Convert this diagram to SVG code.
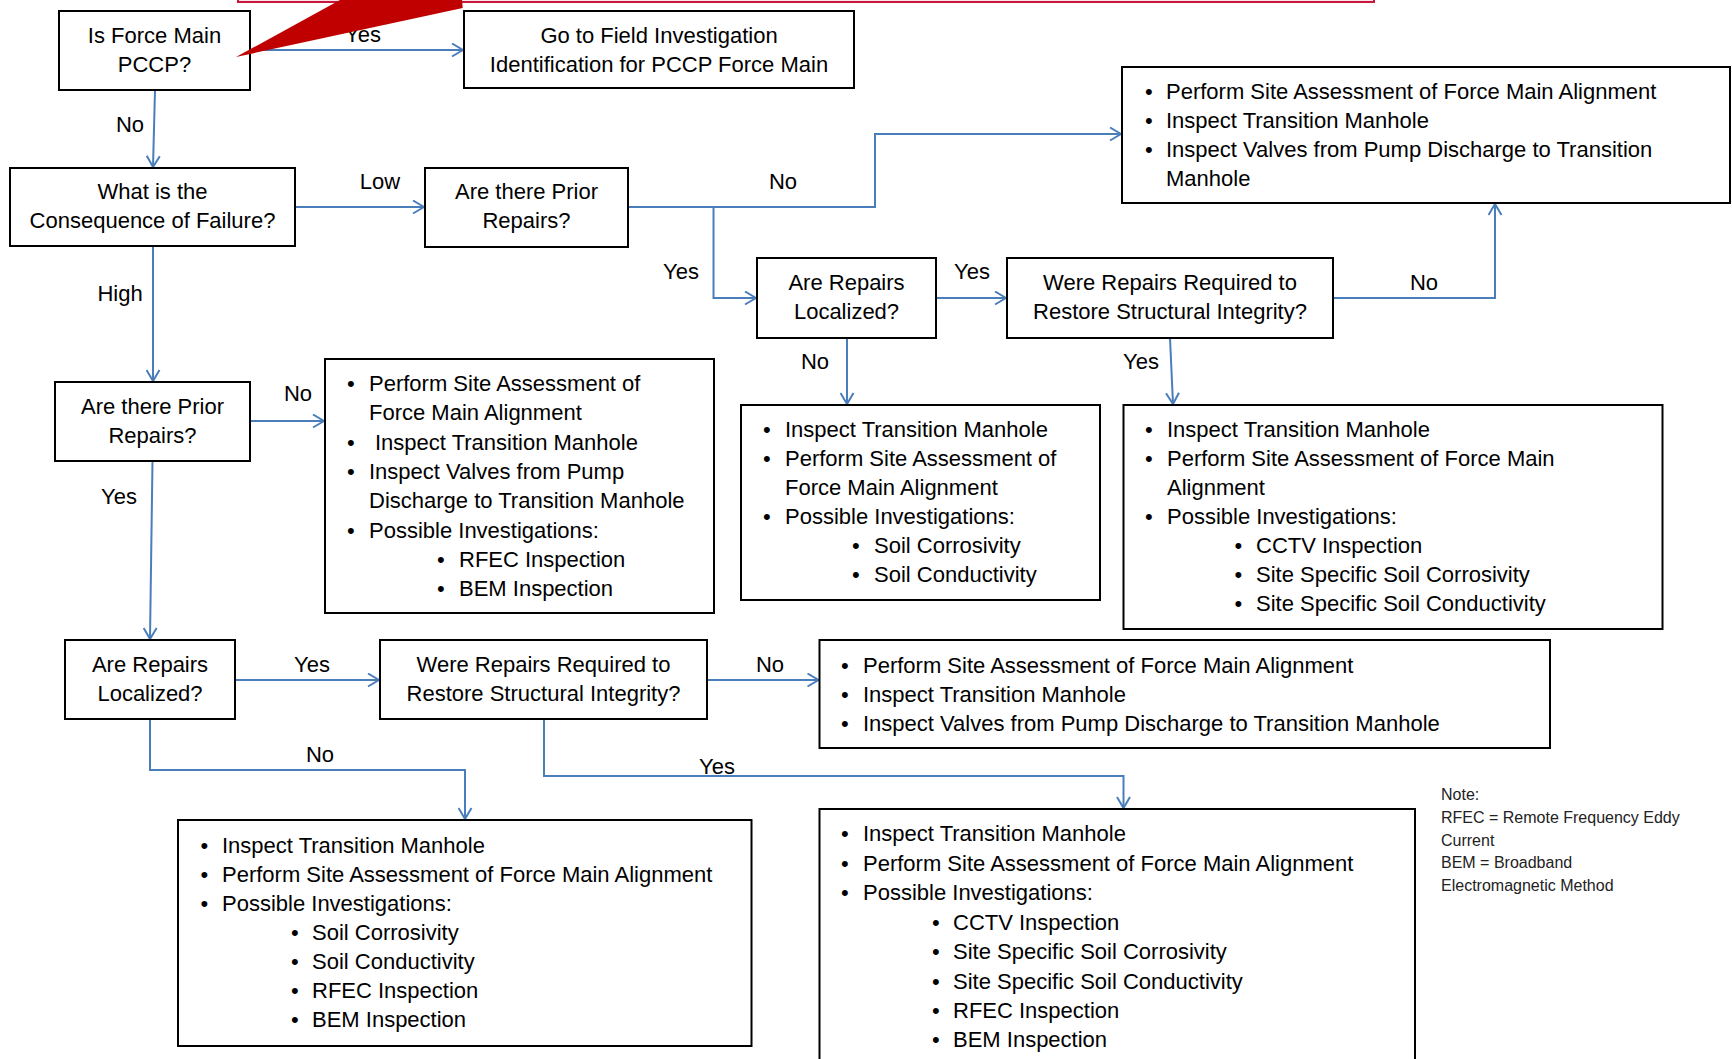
<svg xmlns="http://www.w3.org/2000/svg" width="1732" height="1059" viewBox="0 0 1732 1059">
<style>
text{font-family:"Liberation Sans",Arial,sans-serif;font-size:22px;fill:#000}
.c{text-anchor:middle}
.box{fill:#fff;stroke:#000;stroke-width:2}
.ln{fill:none;stroke:#4a7ebb;stroke-width:2;marker-end:url(#ah)}
.lb{text-anchor:middle}
.note{font-size:16px;fill:#222}
</style>
<defs>
<marker id="ah" viewBox="0 0 13 15" refX="12" refY="7.5" markerWidth="13" markerHeight="15" markerUnits="userSpaceOnUse" orient="auto">
<path d="M1,1 L12,7.5 L1,14" fill="none" stroke="#4a7ebb" stroke-width="2"/>
</marker>
</defs>
<rect width="1732" height="1059" fill="#fff"/>

<g id="connectors">
<path class="ln" d="M250,50 L463,50"/>
<path class="ln" d="M155,90 L153,167"/>
<path class="ln" d="M295,207 L424,207"/>
<path class="ln" d="M628,207 L875,207 L875,134 L1121,134"/>
<path class="ln" d="M713.5,207 L713.5,298 L756,298"/>
<path class="ln" d="M936,298 L1006,298"/>
<path class="ln" d="M1333,298 L1495,298 L1495,204"/>
<path class="ln" d="M847,338 L847,404"/>
<path class="ln" d="M1170,338 L1173,404"/>
<path class="ln" d="M153,246 L153,381"/>
<path class="ln" d="M250,421 L324,421"/>
<path class="ln" d="M152.5,461 L150,639"/>
<path class="ln" d="M235,680 L379,680"/>
<path class="ln" d="M707,680 L818.5,680"/>
<path class="ln" d="M150,719 L150,770 L465,770 L465,819"/>
<path class="ln" d="M544,719 L544,776 L1123.5,776 L1123.5,808"/>
<text class="lb" x="363" y="42">Yes</text>
<text class="lb" x="130" y="132">No</text>
<text class="lb" x="380" y="189">Low</text>
<text class="lb" x="783" y="189">No</text>
<text class="lb" x="681" y="279">Yes</text>
<text class="lb" x="972" y="279">Yes</text>
<text class="lb" x="1424" y="290">No</text>
<text class="lb" x="815" y="369">No</text>
<text class="lb" x="1141" y="369">Yes</text>
<text class="lb" x="120" y="301">High</text>
<text class="lb" x="298" y="401">No</text>
<text class="lb" x="119" y="504">Yes</text>
<text class="lb" x="312" y="672">Yes</text>
<text class="lb" x="770" y="672">No</text>
<text class="lb" x="320" y="762">No</text>
<text class="lb" x="717" y="774">Yes</text>
</g>

<g id="n_pccp">
<rect class="box" x="59" y="11" width="191" height="79"/>
<text class="c" x="154.5" y="43">Is Force Main</text>
<text class="c" x="154.5" y="72">PCCP?</text>
</g>
<g id="n_field">
<rect class="box" x="464" y="11" width="390" height="77"/>
<text class="c" x="659" y="43">Go to Field Investigation</text>
<text class="c" x="659" y="72">Identification for PCCP Force Main</text>
</g>
<g id="n_cof">
<rect class="box" x="10" y="168" width="285" height="78"/>
<text class="c" x="152.5" y="199">What is the</text>
<text class="c" x="152.5" y="228">Consequence of Failure?</text>
</g>
<g id="n_prior_low">
<rect class="box" x="425" y="168" width="203" height="79"/>
<text class="c" x="526.5" y="199">Are there Prior</text>
<text class="c" x="526.5" y="228">Repairs?</text>
</g>
<g id="n_prior_high">
<rect class="box" x="55" y="382" width="195" height="79"/>
<text class="c" x="152.5" y="414">Are there Prior</text>
<text class="c" x="152.5" y="443">Repairs?</text>
</g>
<g id="n_loc_low">
<rect class="box" x="757" y="258" width="179" height="80"/>
<text class="c" x="846.5" y="290">Are Repairs</text>
<text class="c" x="846.5" y="319">Localized?</text>
</g>
<g id="n_req_low">
<rect class="box" x="1007" y="258" width="326" height="80"/>
<text class="c" x="1170" y="290">Were Repairs Required to</text>
<text class="c" x="1170" y="319">Restore Structural Integrity?</text>
</g>
<g id="n_loc_high">
<rect class="box" x="65" y="640" width="170" height="79"/>
<text class="c" x="150" y="672">Are Repairs</text>
<text class="c" x="150" y="701">Localized?</text>
</g>
<g id="n_req_high">
<rect class="box" x="380" y="640" width="327" height="79"/>
<text class="c" x="543.5" y="672">Were Repairs Required to</text>
<text class="c" x="543.5" y="701">Restore Structural Integrity?</text>
</g>

<g id="b_top">
<rect class="box" x="1122" y="67" width="608" height="136"/>
<text x="1145" y="99">•</text><text x="1166" y="99">Perform Site Assessment of Force Main Alignment</text>
<text x="1145" y="128">•</text><text x="1166" y="128">Inspect Transition Manhole</text>
<text x="1145" y="157">•</text><text x="1166" y="157">Inspect Valves from Pump Discharge to Transition</text>
<text x="1166" y="186">Manhole</text>
</g>
<g id="b_left">
<rect class="box" x="325" y="359" width="389" height="254"/>
<text x="347" y="391">•</text><text x="369" y="391">Perform Site Assessment of</text>
<text x="369" y="420.3">Force Main Alignment</text>
<text x="347" y="449.6">•</text><text x="375" y="449.6">Inspect Transition Manhole</text>
<text x="347" y="478.9">•</text><text x="369" y="478.9">Inspect Valves from Pump</text>
<text x="369" y="508.2">Discharge to Transition Manhole</text>
<text x="347" y="537.5">•</text><text x="369" y="537.5">Possible Investigations:</text>
<text x="437" y="566.8">•</text><text x="459" y="566.8">RFEC Inspection</text>
<text x="437" y="596.1">•</text><text x="459" y="596.1">BEM Inspection</text>
</g>
<g id="b_mid">
<rect class="box" x="741" y="405" width="359" height="195"/>
<text x="763" y="436.5">•</text><text x="785" y="436.5">Inspect Transition Manhole</text>
<text x="763" y="465.5">•</text><text x="785" y="465.5">Perform Site Assessment of</text>
<text x="785" y="494.5">Force Main Alignment</text>
<text x="763" y="523.5">•</text><text x="785" y="523.5">Possible Investigations:</text>
<text x="852" y="552.5">•</text><text x="874" y="552.5">Soil Corrosivity</text>
<text x="852" y="581.5">•</text><text x="874" y="581.5">Soil Conductivity</text>
</g>
<g id="b_right">
<rect class="box" x="1123.5" y="405" width="539" height="224"/>
<text x="1145" y="436.5">•</text><text x="1167" y="436.5">Inspect Transition Manhole</text>
<text x="1145" y="465.5">•</text><text x="1167" y="465.5">Perform Site Assessment of Force Main</text>
<text x="1167" y="494.5">Alignment</text>
<text x="1145" y="523.5">•</text><text x="1167" y="523.5">Possible Investigations:</text>
<text x="1234.5" y="552.5">•</text><text x="1256" y="552.5">CCTV Inspection</text>
<text x="1234.5" y="581.5">•</text><text x="1256" y="581.5">Site Specific Soil Corrosivity</text>
<text x="1234.5" y="610.5">•</text><text x="1256" y="610.5">Site Specific Soil Conductivity</text>
</g>
<g id="b_no_high">
<rect class="box" x="819.5" y="640" width="730.5" height="108"/>
<text x="841" y="672.5">•</text><text x="863" y="672.5">Perform Site Assessment of Force Main Alignment</text>
<text x="841" y="701.5">•</text><text x="863" y="701.5">Inspect Transition Manhole</text>
<text x="841" y="730.5">•</text><text x="863" y="730.5">Inspect Valves from Pump Discharge to Transition Manhole</text>
</g>
<g id="b_botleft">
<rect class="box" x="178" y="820" width="573.5" height="226"/>
<text x="200.5" y="852.5">•</text><text x="222" y="852.5">Inspect Transition Manhole</text>
<text x="200.5" y="881.5">•</text><text x="222" y="881.5">Perform Site Assessment of Force Main Alignment</text>
<text x="200.5" y="910.5">•</text><text x="222" y="910.5">Possible Investigations:</text>
<text x="291" y="939.5">•</text><text x="312" y="939.5">Soil Corrosivity</text>
<text x="291" y="968.5">•</text><text x="312" y="968.5">Soil Conductivity</text>
<text x="291" y="998">•</text><text x="312" y="998">RFEC Inspection</text>
<text x="291" y="1027">•</text><text x="312" y="1027">BEM Inspection</text>
</g>
<g id="b_botright">
<rect class="box" x="819.5" y="809" width="595.5" height="270"/>
<text x="841" y="841">•</text><text x="863" y="841">Inspect Transition Manhole</text>
<text x="841" y="870.5">•</text><text x="863" y="870.5">Perform Site Assessment of Force Main Alignment</text>
<text x="841" y="900">•</text><text x="863" y="900">Possible Investigations:</text>
<text x="932" y="929.5">•</text><text x="953" y="929.5">CCTV Inspection</text>
<text x="932" y="959">•</text><text x="953" y="959">Site Specific Soil Corrosivity</text>
<text x="932" y="988.5">•</text><text x="953" y="988.5">Site Specific Soil Conductivity</text>
<text x="932" y="1017.5">•</text><text x="953" y="1017.5">RFEC Inspection</text>
<text x="932" y="1047">•</text><text x="953" y="1047">BEM Inspection</text>
</g>
<g id="note">
<text class="note" x="1441" y="800">Note:</text>
<text class="note" x="1441" y="823">RFEC = Remote Frequency Eddy</text>
<text class="note" x="1441" y="845.5">Current</text>
<text class="note" x="1441" y="868">BEM = Broadband</text>
<text class="note" x="1441" y="890.5">Electromagnetic Method</text>
</g>
<g id="callout">
<rect x="238" y="-10" width="1136" height="12" fill="#f9e4e8" stroke="#c8163e" stroke-width="2"/>
<polygon points="236,57 340,0 462,0 462.7,8" fill="#c00000"/>
</g>
</svg>
